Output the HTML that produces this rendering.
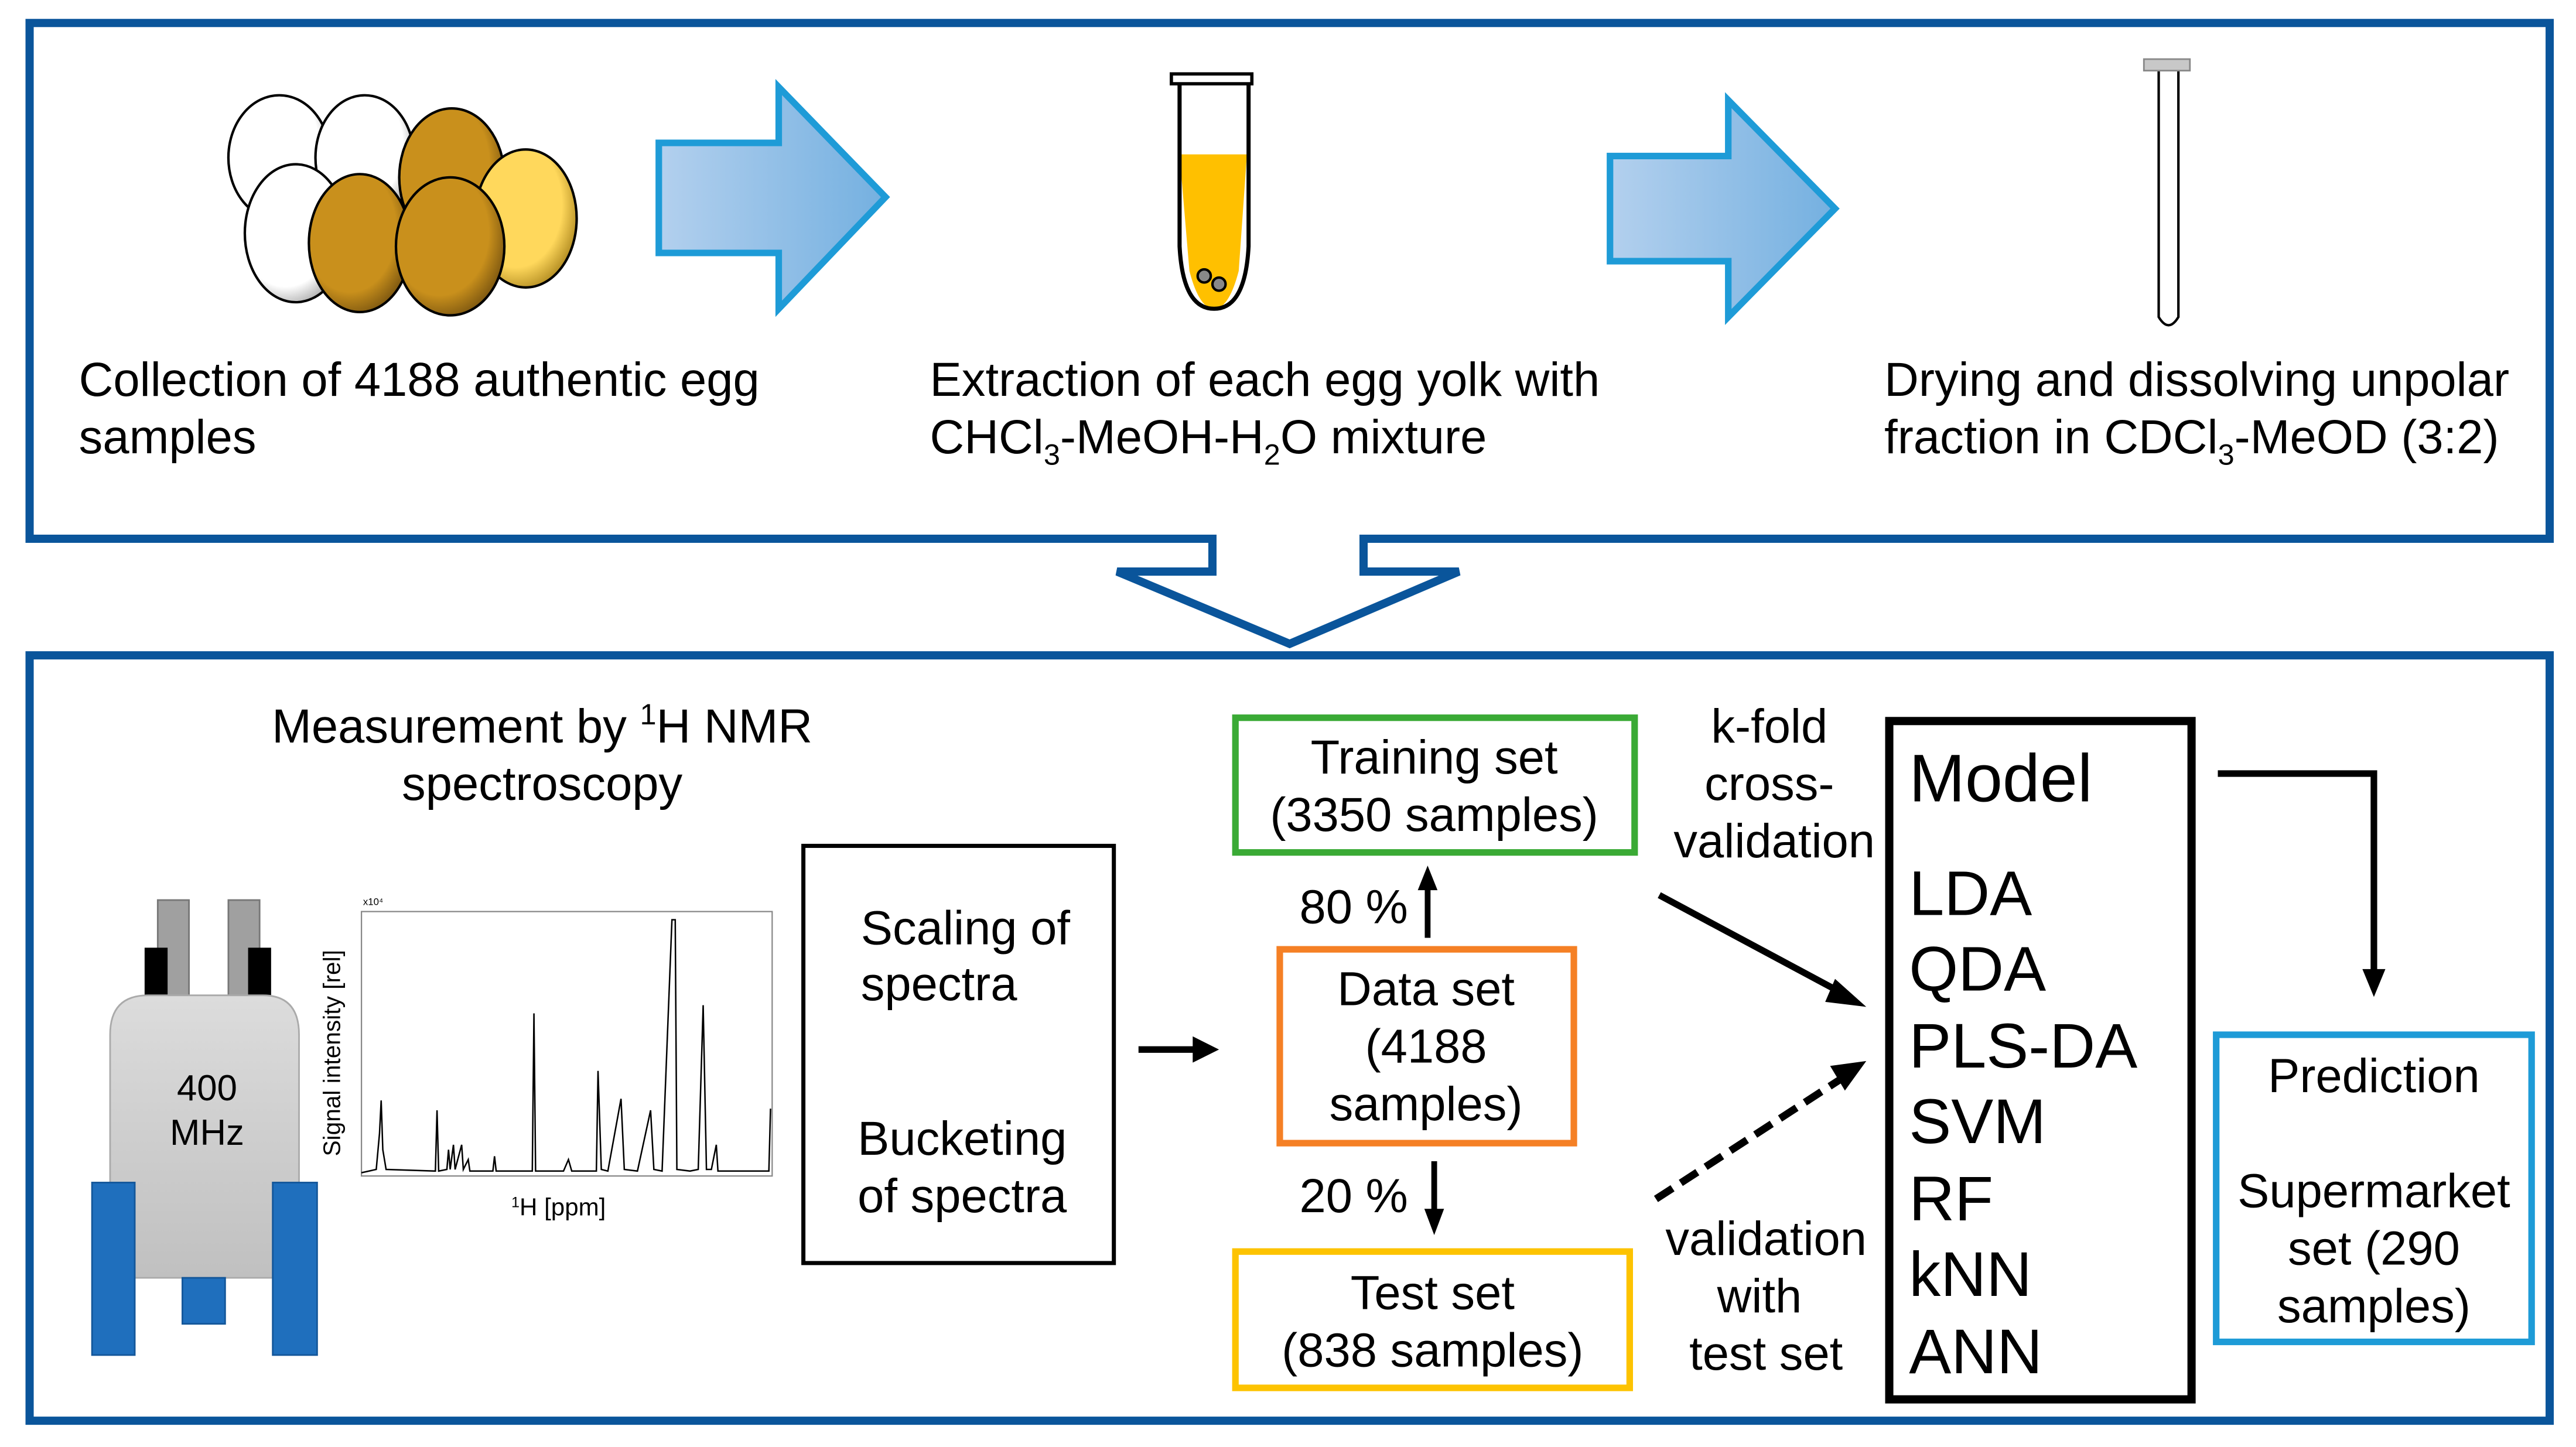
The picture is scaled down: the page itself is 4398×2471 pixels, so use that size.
<!DOCTYPE html>
<html><head><meta charset="utf-8"><style>
html,body{margin:0;padding:0;background:#fff;}
svg{display:block;}
text{font-family:"Liberation Sans",Arial,sans-serif;fill:#000;}
</style></head><body>
<svg width="4398" height="2471" viewBox="0 0 1568 881" xmlns="http://www.w3.org/2000/svg">
<defs>
<linearGradient id="ba" x1="0" x2="1" y1="0" y2="0"><stop offset="0" stop-color="#b3d0ee"/><stop offset="1" stop-color="#74b0e0"/></linearGradient>
<radialGradient id="br" cx="0.4" cy="0.4" r="0.65"><stop offset="0.7" stop-color="#c9901c"/><stop offset="1" stop-color="#7a5510"/></radialGradient>
<radialGradient id="yl" cx="0.4" cy="0.4" r="0.65"><stop offset="0.7" stop-color="#ffd85c"/><stop offset="1" stop-color="#b08a20"/></radialGradient>
<radialGradient id="wh" cx="0.4" cy="0.4" r="0.65"><stop offset="0.75" stop-color="#ffffff"/><stop offset="1" stop-color="#aaaaaa"/></radialGradient>
<linearGradient id="gr" x1="0" x2="0" y1="0" y2="1"><stop offset="0" stop-color="#dcdcdc"/><stop offset="1" stop-color="#c0c0c0"/></linearGradient>
</defs>
<rect width="1568" height="881" fill="#fff"/>
<path d="M738,328 L18,328 L18,14 L1552,14 L1552,328 L830,328 L830,348 L888,348 L785,392 L680,348 L738,348 Z" fill="none" stroke="#0a559b" stroke-width="5"/>
<rect x="18" y="399" width="1534" height="466" fill="none" stroke="#0a559b" stroke-width="5"/>

<g stroke="#000" stroke-width="1.5">
<ellipse cx="170" cy="96" rx="31" ry="38" fill="url(#wh)"/>
<ellipse cx="222" cy="96" rx="30" ry="38" fill="url(#wh)"/>
<ellipse cx="275" cy="108" rx="32" ry="42" fill="url(#br)"/>
<ellipse cx="320" cy="133" rx="31" ry="42" fill="url(#yl)"/>
<ellipse cx="180" cy="142" rx="31" ry="42" fill="url(#wh)"/>
<ellipse cx="219" cy="148" rx="31" ry="42" fill="url(#br)"/>
<ellipse cx="274" cy="150" rx="33" ry="42" fill="url(#br)"/>
</g>
<path d="M401,87 L474,87 L474,53 L539,120 L474,188 L474,154 L401,154 Z" fill="url(#ba)" stroke="#1e9bd7" stroke-width="4"/>
<path d="M980,95 L1052,95 L1052,61 L1117,127 L1052,193 L1052,159 L980,159 Z" fill="url(#ba)" stroke="#1e9bd7" stroke-width="4"/>
<path d="M718,94 L759,94 L754,165 Q748,188 739,188 Q730,188 724,165 Z" fill="#ffc000"/>
<path d="M718,51 L718,150 Q720,188 739,188 Q758,188 760,150 L760,51" fill="none" stroke="#000" stroke-width="2.5"/>
<rect x="713" y="45" width="49" height="6" fill="#fff" stroke="#000" stroke-width="2"/>
<circle cx="733" cy="168" r="4" fill="#888" stroke="#000" stroke-width="1.5"/>
<circle cx="742" cy="173" r="4" fill="#888" stroke="#000" stroke-width="1.5"/>
<path d="M1314,43 L1314,193 Q1320,203 1326,193 L1326,43" fill="#fff" stroke="#000" stroke-width="1.5"/>
<rect x="1305" y="36" width="28" height="7" fill="#c8c8c8" stroke="#888" stroke-width="1"/>

<g font-size="29">
<text x="48" y="241">Collection of 4188 authentic egg</text>
<text x="48" y="276">samples</text>
<text x="566" y="241">Extraction of each egg yolk with</text>
<text x="566" y="276">CHCl<tspan font-size="18" dy="7">3</tspan><tspan dy="-7">-MeOH-H</tspan><tspan font-size="18" dy="7">2</tspan><tspan dy="-7">O mixture</tspan></text>
<text x="1147" y="241">Drying and dissolving unpolar</text>
<text x="1147" y="276">fraction in CDCl<tspan font-size="18" dy="7">3</tspan><tspan dy="-7">-MeOD (3:2)</tspan></text>
<text x="330" y="452" text-anchor="middle">Measurement by <tspan font-size="18" dy="-11">1</tspan><tspan dy="11">H NMR</tspan></text>
<text x="330" y="487" text-anchor="middle">spectroscopy</text>
</g>

<rect x="96" y="548" width="19" height="60" fill="#a0a0a0" stroke="#777"/>
<rect x="139" y="548" width="19" height="60" fill="#a0a0a0" stroke="#777"/>
<rect x="88" y="577" width="14" height="29" fill="#000"/>
<rect x="151" y="577" width="14" height="29" fill="#000"/>
<path d="M67,778 L67,630 Q67,606 90,606 L160,606 Q182,606 182,630 L182,778 Z" fill="url(#gr)" stroke="#aaa"/>
<rect x="111" y="778" width="26" height="28" fill="#1f6fbd" stroke="#14579a"/>
<rect x="56" y="720" width="26" height="105" fill="#1f6fbd" stroke="#14579a"/>
<rect x="166" y="720" width="27" height="105" fill="#1f6fbd" stroke="#14579a"/>
<text x="126" y="670" font-size="22" text-anchor="middle">400</text>
<text x="126" y="697" font-size="22" text-anchor="middle">MHz</text>

<rect x="220" y="555" width="250" height="161" fill="none" stroke="#888" stroke-width="0.8"/>
<polyline fill="none" stroke="#000" stroke-width="0.9" points="220,714 229,712 231,690 232,670 233,700 235,712 265,713 266,676 267,713 272,712 273,700 274,712 276,697 277,712 281,697 282,712 285,706 286,713 300,713 301,704 302,713 324,713 325,617 326,713 343,713 346,706 348,713 363,713 364,652 366,712 370,713 378,669 380,712 388,713 396,676 398,712 403,713 409,560 411,560 412,712 420,713 425,712 428,612 430,712 433,712 436,697 437,713 468,713 469,675"/>
<text x="221" y="551" font-size="6">x10⁴</text>
<text transform="translate(207,704) rotate(-90)" font-size="14.5">Signal intensity [rel]</text>
<text x="340" y="740" font-size="15" text-anchor="middle"><tspan font-size="9" dy="-5">1</tspan><tspan dy="5">H [ppm]</tspan></text>

<rect x="489" y="515" width="189" height="254" fill="none" stroke="#000" stroke-width="2.5"/>
<g font-size="29">
<text x="524" y="575">Scaling of</text>
<text x="524" y="609">spectra</text>
<text x="522" y="703">Bucketing</text>
<text x="522" y="738">of spectra</text>
</g>
<line x1="693" y1="639" x2="728" y2="639" stroke="#000" stroke-width="4"/>
<polygon points="726,631 742,639 726,647" fill="#000"/>

<rect x="752" y="437" width="243" height="82" fill="none" stroke="#3aaa35" stroke-width="4"/>
<rect x="779" y="578" width="179" height="118" fill="none" stroke="#f58025" stroke-width="4"/>
<rect x="752" y="762" width="240" height="83" fill="none" stroke="#fdc300" stroke-width="4"/>
<g font-size="29" text-anchor="middle">
<text x="873" y="471">Training set</text>
<text x="873" y="506">(3350 samples)</text>
<text x="868" y="612">Data set</text>
<text x="868" y="647">(4188</text>
<text x="868" y="682">samples)</text>
<text x="872" y="797">Test set</text>
<text x="872" y="832">(838 samples)</text>
<text x="824" y="562">80 %</text>
<text x="824" y="738">20 %</text>
<text x="1077" y="452">k-fold</text>
<text x="1077" y="487">cross-</text>
<text x="1080" y="522">validation</text>
<text x="1075" y="764">validation</text>
<text x="1071" y="799">with</text>
<text x="1075" y="834">test set</text>
</g>
<line x1="869" y1="571" x2="869" y2="540" stroke="#000" stroke-width="3.5"/>
<polygon points="863,542 869,527 875,542" fill="#000"/>
<line x1="873" y1="707" x2="873" y2="738" stroke="#000" stroke-width="3.5"/>
<polygon points="867,736 873,752 879,736" fill="#000"/>
<line x1="1010" y1="545" x2="1122" y2="605" stroke="#000" stroke-width="4"/>
<polygon points="1117,596 1136,613 1111,610" fill="#000"/>
<line x1="1008" y1="730" x2="1122" y2="656" stroke="#000" stroke-width="4.5" stroke-dasharray="12,6"/>
<polygon points="1114,649 1136,646 1123,664" fill="#000"/>

<rect x="1150" y="439" width="184" height="413" fill="none" stroke="#000" stroke-width="5"/>
<text x="1162" y="488" font-size="41">Model</text>
<g font-size="38.5">
<text x="1162" y="557">LDA</text>
<text x="1162" y="603">QDA</text>
<text x="1162" y="650">PLS-DA</text>
<text x="1162" y="696">SVM</text>
<text x="1162" y="743">RF</text>
<text x="1162" y="789">kNN</text>
<text x="1162" y="836">ANN</text>
</g>
<polyline points="1350,471 1445,471 1445,592" fill="none" stroke="#000" stroke-width="4"/>
<polygon points="1438,590 1445,607 1452,590" fill="#000"/>

<rect x="1349" y="630" width="192" height="187" fill="none" stroke="#1e9bd7" stroke-width="4"/>
<g font-size="29" text-anchor="middle">
<text x="1445" y="665">Prediction</text>
<text x="1445" y="735">Supermarket</text>
<text x="1445" y="770">set (290</text>
<text x="1445" y="805">samples)</text>
</g>
</svg>
</body></html>
